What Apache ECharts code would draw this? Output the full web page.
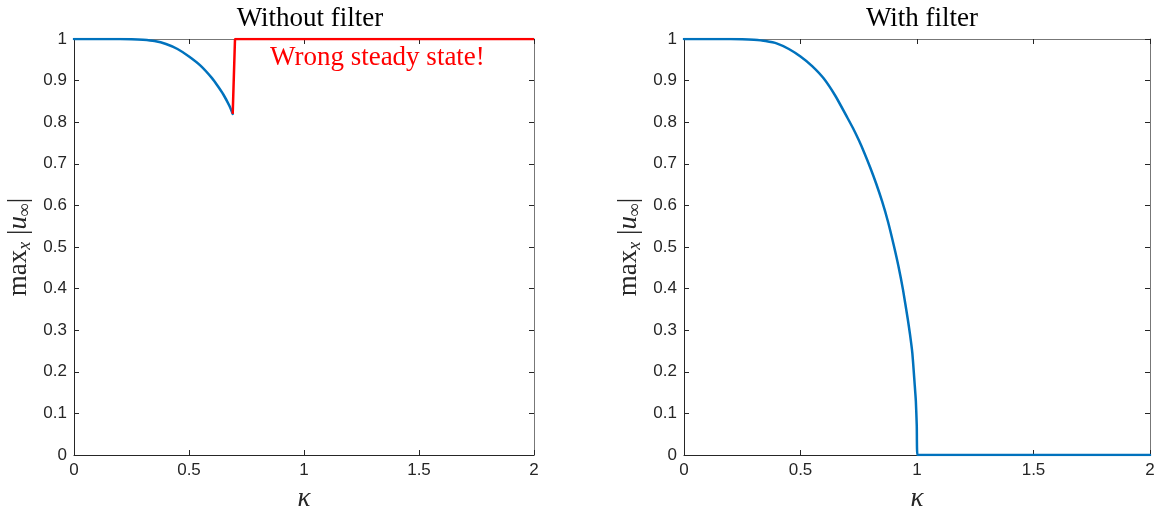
<!DOCTYPE html>
<html><head><meta charset="utf-8">
<script src="https://cdn.jsdelivr.net/npm/echarts@6/dist/echarts.min.js"></script>
<style>html,body{margin:0;padding:0;background:#fff}#c{width:1154px;height:510px}</style>
</head><body><div id="c"></div>
<script>
// Left panel: without filter
const leftBlueK = [0, 0.1, 0.2, 0.25, 0.3, 0.35, 0.4, 0.45, 0.5, 0.55, 0.6, 0.625, 0.65, 0.675, 0.69];
const leftBlueV = [1, 1, 1, 0.9995, 0.998, 0.995, 0.988, 0.976, 0.958, 0.936, 0.906, 0.887, 0.866, 0.840, 0.82];
const leftRedK = [0.69, 0.7, 2];
const leftRedV = [0.82, 1, 1];
// Right panel: with filter
const rightK = [0, 0.1, 0.2, 0.25, 0.3, 0.35, 0.4, 0.45, 0.5, 0.55, 0.6, 0.65, 0.7, 0.725, 0.75, 0.775, 0.8, 0.825, 0.85, 0.875, 0.9, 0.92, 0.94, 0.96, 0.97, 0.98, 0.99, 0.995, 0.999, 1.002, 1.1, 2];
const rightV = [1, 1, 1, 0.9995, 0.998, 0.995, 0.989, 0.976, 0.958, 0.935, 0.905, 0.863, 0.812, 0.786, 0.757, 0.725, 0.69, 0.652, 0.61, 0.562, 0.505, 0.455, 0.397, 0.328, 0.29, 0.245, 0.17, 0.13, 0.07, 0, 0, 0];
const xTicks = [0, 0.5, 1, 1.5, 2];
const titles = ['Without filter', 'With filter'];
const annotation = 'Wrong steady state!';

const zip = (a, b) => a.map((v, i) => [v, b[i]]);
const axisColor = '#262626';
const tickFont = {fontFamily: 'Liberation Sans, Arial, sans-serif', fontSize: 17, color: axisColor};
const serif = 'Liberation Serif, Times New Roman, serif';

function xAx(grid, pos) {
  const main = pos === 'bottom';
  return {
    type: 'value', gridIndex: grid, position: pos, min: xTicks[0], max: xTicks[xTicks.length - 1], interval: 0.5,
    axisLine: {show: true, onZero: false, lineStyle: {color: main ? axisColor : '#777', width: 1}},
    axisTick: {show: true, inside: true, length: 5, lineStyle: {color: axisColor}},
    axisLabel: main ? Object.assign({show: true, margin: 7, formatter: v => String(v)}, tickFont) : {show: false},
    splitLine: {show: false},
    name: main ? 'κ' : '', nameLocation: 'middle', nameGap: 30,
    nameTextStyle: {fontFamily: serif, fontStyle: 'italic', fontSize: 27, color: axisColor}
  };
}
function yAx(grid, pos) {
  const main = pos === 'left';
  return {
    type: 'value', gridIndex: grid, position: pos, min: 0, max: 1, interval: 0.1,
    axisLine: {show: true, onZero: false, lineStyle: {color: main ? axisColor : '#777', width: 1}},
    axisTick: {show: true, inside: true, length: 5, lineStyle: {color: axisColor}},
    axisLabel: main ? Object.assign({show: true, margin: 7, formatter: v => String(+v.toFixed(1))}, tickFont) : {show: false},
    splitLine: {show: false},
    name: main ? '{a|max}{s|x}{a| |}{i|u}{s|∞}{a||}' : '', nameLocation: 'middle', nameGap: 40, nameRotate: 90,
    nameTextStyle: {
      color: axisColor,
      rich: {
        a: {fontFamily: serif, fontSize: 27, color: axisColor},
        i: {fontFamily: serif, fontSize: 27, fontStyle: 'italic', color: axisColor},
        s: {fontFamily: serif, fontSize: 18, fontStyle: 'italic', color: axisColor, padding: [12, 0, 0, 0]}
      }
    }
  };
}

const option = {
  animation: false,
  backgroundColor: '#fff',
  title: [
    {text: titles[0], left: 305, top: 0, textAlign: 'center', textStyle: {fontFamily: serif, fontSize: 27, fontWeight: 'normal', color: '#000'}},
    {text: titles[1], left: 917, top: 0, textAlign: 'center', textStyle: {fontFamily: serif, fontSize: 27, fontWeight: 'normal', color: '#000'}},
    {text: annotation, left: 265, top: 39, textStyle: {fontFamily: serif, fontSize: 27, fontWeight: 'normal', color: '#ff0000'}}
  ],
  grid: [
    {left: 74, right: 620, top: 39, bottom: 55, containLabel: false, outerBoundsMode: 'none'},
    {left: 684, right: 4, top: 39, bottom: 55, containLabel: false, outerBoundsMode: 'none'}
  ],
  xAxis: [xAx(0, 'bottom'), xAx(0, 'top'), xAx(1, 'bottom'), xAx(1, 'top')],
  yAxis: [yAx(0, 'left'), yAx(0, 'right'), yAx(1, 'left'), yAx(1, 'right')],
  series: [
    {type: 'line', xAxisIndex: 0, yAxisIndex: 0, data: zip(leftBlueK, leftBlueV), smooth: 0.25, showSymbol: false,
     lineStyle: {color: '#0072BD', width: 2.5, join: 'round', cap: 'round'}, z: 3},
    {type: 'line', xAxisIndex: 0, yAxisIndex: 0, data: zip(leftRedK, leftRedV), showSymbol: false,
     lineStyle: {color: '#ff0000', width: 2.5}, z: 4},
    {type: 'line', xAxisIndex: 2, yAxisIndex: 2, data: zip(rightK, rightV), smooth: 0.2, showSymbol: false,
     lineStyle: {color: '#0072BD', width: 2.5, join: 'round', cap: 'round'}, z: 3}
  ]
};
echarts.init(document.getElementById('c'), null, {renderer: 'canvas'}).setOption(option);
</script></body></html>
